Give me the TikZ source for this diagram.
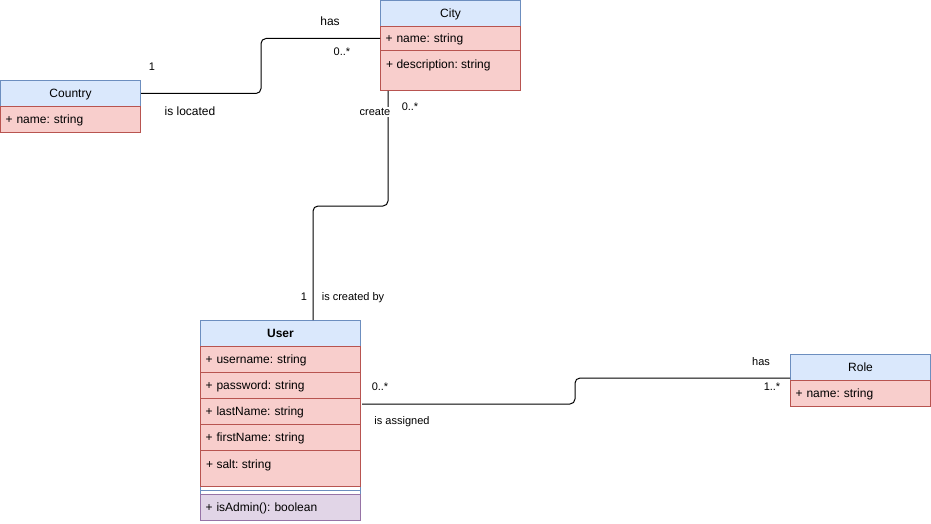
\documentclass[tikz,border=0pt]{standalone}
\usepackage{fontspec}
\setmainfont{Liberation Sans}
\usepackage{xcolor}
\definecolor{headfill}{HTML}{DAE8FC}
\definecolor{headline}{HTML}{6C8EBF}
\definecolor{attrfill}{HTML}{F8CECC}
\definecolor{attrline}{HTML}{B85450}
\definecolor{opfill}{HTML}{E1D5E7}
\definecolor{opline}{HTML}{9673A6}
\tikzset{
  every node/.style={
    text=black, font=\fontsize{12}{14}\selectfont
  },
  head/.style={draw=headline, fill=headfill, line width=1pt, anchor=north west,
    minimum width=140pt, minimum height=26pt, inner sep=0pt, align=center,
    text depth=0pt},
  attr/.style={draw=attrline, fill=attrfill, line width=1pt, anchor=north west,
    minimum width=140pt, minimum height=26pt, text width=130pt, inner xsep=5pt,
    inner ysep=0pt, align=left, text depth=0pt},
  op/.style={attr, draw=opline, fill=opfill},
  wide/.style={minimum width=160pt, text width=150pt},
  rowtext/.style={anchor=west, inner sep=0pt, text depth=0pt},
  assoc/.style={draw=black, line width=1pt, rounded corners=5pt},
  small/.style={font=\fontsize{11}{13}\selectfont, inner sep=1pt}
}
\begin{document}
\frenchspacing
\begin{tikzpicture}[x=1pt,y=-1pt]
    \useasboundingbox[fill=white] (0,0) rectangle (931,524);
    % Country
    \node[head] (country) at (0,80) {Country};
    \node[attr] (countryname) at (0,106) {+ name: string};
    % City
    \node[head] (city) at (380,0) {City};
    \node[attr, minimum height=24pt] (cityname) at (380,26) {+ name: string};
    \node[attr, minimum height=40pt] (citydesc) at (380,50) {};
    \node[rowtext] (citydesctext) at (386,64) {+ description: string};
    % User
    \node[draw=headline, fill=white, line width=1pt, anchor=north west,
      minimum width=160pt, minimum height=200pt, inner sep=0pt] (userbox) at (200,320) {};
    \node[head, wide] (user) at (200,320) {\textbf{User}};
    \node[attr, wide] (username) at (200,346) {+ username: string};
    \node[attr, wide] (password) at (200,372) {+ password: string};
    \node[attr, wide] (lastname) at (200,398) {+ lastName: string};
    \node[attr, wide] (firstname) at (200,424) {+ firstName: string};
    \node[attr, wide, minimum height=36pt] (salt) at (200,450) {};
    \node[rowtext] (salttext) at (206,464) {+ salt: string};
    \draw[headline, line width=1pt] (200,490) -- (360,490);
    \node[op, wide] (isadmin) at (200,494) {+ isAdmin(): boolean};
    % Role
    \node[head] (role) at (790,354) {Role};
    \node[attr] (rolename) at (790,380) {+ name: string};
    %\draw[gray, very thin] (0,0) grid[step=50pt] (931,524);
    % associations
    \draw[assoc] (country.east) -- ++(120,0) |- (cityname.west);
    \draw (152,67) node[small] (lblone) {1};
    \draw (190,111) node (lbllocated) {is located};
    \draw (330,21) node (lblhas) {has};
    \draw (342,52) node[small] (lblmany) {0..*};

    \draw[assoc] ([xshift=8pt]citydesc.south west) -- ++(0,115)
      -| ([xshift=113pt]userbox.north west);
    \draw (375,112) node[small, fill=white] (lblcreate) {create};
    \draw (410,107) node[small] (lblcitymany) {0..*};
    \draw (304,297) node[small] (lbluserone) {1};
    \draw (353,298) node[small] (lblcreated) {is created by};

    \coordinate (userout) at (362,404);
    \coordinate (rolein) at (790,378);
    \draw[assoc] (userout) -- ++(213,0) |- (rolein);
    \draw (380,387) node[small] (lblusermany) {0..*};
    \draw (402,422) node[small] (lblassigned) {is assigned};
    \draw (761,362) node[small] (lblrolehas) {has};
    \draw (772,387) node[small] (lblrolemany) {1..*};
\end{tikzpicture}
\end{document}
